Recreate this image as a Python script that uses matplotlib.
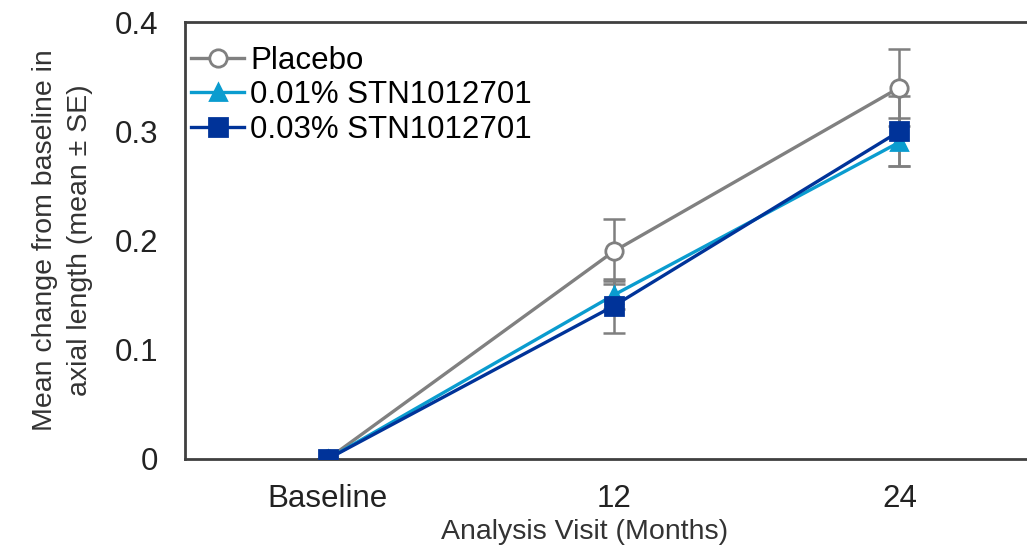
import matplotlib.pyplot as plt
import matplotlib

matplotlib.rcParams['font.family'] = ['Liberation Sans', 'DejaVu Sans']

# 数据
visits = ["Baseline", "12", "24"]
placebo = [0, 0.19, 0.34]
placebo_se = [0, 0.03, 0.035]
low_dose = [0, 0.15, 0.29]
low_dose_se = [0, 0.013, 0.022]
high_dose = [0, 0.14, 0.30]
high_dose_se = [0, 0.025, 0.032]

labels = ["Placebo", "0.01% STN1012701", "0.03% STN1012701"]
colors = ["#808080", "#0a9ccf", "#003399"]

fig = plt.figure(figsize=(10.27, 5.5), dpi=100)
ax = fig.add_axes([0.180, 0.1655, 0.835, 0.7945])

x = list(range(len(visits)))
series = [(placebo, placebo_se, "o", 12.5, "white"),
          (low_dose, low_dose_se, "^", 12, colors[1]),
          (high_dose, high_dose_se, "s", 13, colors[2])]

# 先画误差线
for (y, se, m, ms, mfc), c in zip(series, colors):
    ax.errorbar(x, y, yerr=se, fmt="none", ecolor="#7f7f7f", elinewidth=1.8,
                capsize=8, capthick=1.8, zorder=2)

for (y, se, m, ms, mfc), c, lab in zip(series, colors, labels):
    ax.plot(x, y, color=c, linewidth=2.4, marker=m, markersize=ms,
            markerfacecolor=mfc, markeredgecolor=c, markeredgewidth=2,
            label=lab, zorder=3)

ax.set_xlim(-0.5, 2.5)
ax.set_ylim(0, 0.4)
ax.set_xticks(x)
ax.set_xticklabels(visits)
ax.set_yticks([0, 0.1, 0.2, 0.3, 0.4])
ax.set_yticklabels(["0", "0.1", "0.2", "0.3", "0.4"])
ax.tick_params(axis="both", length=0, labelsize=22.5, colors="#222222")
ax.tick_params(axis="y", pad=19)
ax.tick_params(axis="x", pad=18)

for s in ["left", "top", "bottom"]:
    ax.spines[s].set_color("#404040")
    ax.spines[s].set_linewidth(2)
ax.spines["right"].set_visible(False)

ax.set_xlabel("Analysis Visit (Months)", fontsize=20.5, color="#333333")
ax.xaxis.set_label_coords(0.4665, -0.138)
ax.set_ylabel("Mean change from baseline in\naxial length (mean \u00b1 SE)",
              fontsize=20.5, color="#333333", labelpad=16, linespacing=1.45)

ax.legend(loc="upper left", bbox_to_anchor=(0.0, 0.96), frameon=False,
          fontsize=22.5, handlelength=1.7, handletextpad=0.2,
          labelspacing=0.15, borderaxespad=0.1, borderpad=0.1)

plt.savefig("out.png", dpi=100)
